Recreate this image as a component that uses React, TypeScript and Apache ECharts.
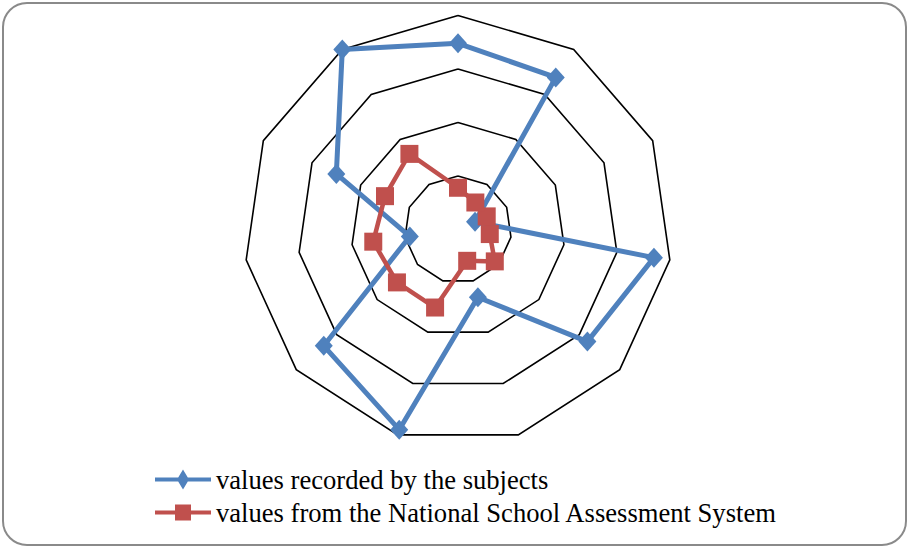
import React, { useEffect, useRef } from 'react';
import * as echarts from 'echarts';

// 11 axes, listed clockwise from the top
const indicatorNames = ['1', '2', '3', '4', '5', '6', '7', '8', '9', '10', '11'];
const maxValue = 4;
const subjectValues = [3.48, 3.38, 0.35, 3.70, 3.20, 1.32, 3.90, 3.32, 0.91, 2.50, 4.00];
const nationalValues = [0.78, 0.60, 0.59, 0.60, 0.91, 0.61, 1.52, 1.51, 1.60, 1.50, 1.68];
const seriesNames = [
  'values recorded by the subjects',
  'values from the National School Assessment System',
];

// ECharts radar places indicators counter-clockwise; reorder to be clockwise
const toCCW = <T,>(a: T[]): T[] => [a[0], ...a.slice(1).reverse()];

export default function App() {
  const ref = useRef<HTMLDivElement>(null);
  useEffect(() => {
    if (!ref.current) return;
    const chart = echarts.init(ref.current, null, { renderer: 'svg' });
    const font = "'Liberation Serif', 'Times New Roman', serif";
    chart.setOption({
      animation: false,
      backgroundColor: '#ffffff',
      graphic: [
        {
          type: 'rect',
          silent: true,
          shape: { x: 3, y: 3, width: 903, height: 542, r: 24 },
          style: { fill: 'none', stroke: '#8a8a8a', lineWidth: 2 },
        },
      ],
      legend: {
        orient: 'vertical',
        left: 150,
        top: 461,
        itemWidth: 56,
        itemHeight: 20,
        itemGap: 6,
        textStyle: { fontFamily: font, fontSize: 26.6, color: '#000', lineHeight: 27 },
        data: [
          { name: seriesNames[0], icon: 'path://M0,8h56v4h-56z M28,0L34,10L28,20L22,10z' },
          { name: seriesNames[1], icon: 'path://M0,8h56v4h-56z M20,2h16v16h-16z' },
        ],
      },
      radar: {
        center: [458, 229.5],
        radius: 214,
        startAngle: 90,
        splitNumber: 4,
        shape: 'polygon',
        indicator: toCCW(indicatorNames).map((n) => ({ name: n, min: 0, max: maxValue })),
        axisName: { show: false },
        axisLine: { show: false },
        axisTick: { show: false },
        axisLabel: { show: false },
        splitLine: { lineStyle: { color: '#000', width: 1.6 } },
        splitArea: { show: false },
      },
      series: [
        {
          type: 'radar',
          data: [
            {
              name: seriesNames[0],
              value: toCCW(subjectValues),
              symbol: 'diamond',
              symbolSize: [18, 20],
              lineStyle: { color: '#4F81BD', width: 5 },
              itemStyle: { color: '#4F81BD' },
            },
            {
              name: seriesNames[1],
              value: toCCW(nationalValues),
              symbol: 'rect',
              symbolSize: 18,
              lineStyle: { color: '#C0504D', width: 4.5 },
              itemStyle: { color: '#C0504D' },
            },
          ],
        },
      ],
    });
    return () => chart.dispose();
  }, []);
  return (
    <div
      ref={ref}
      style={{ position: 'fixed', left: 0, top: 0, width: 909, height: 547 }}
    />
  );
}
